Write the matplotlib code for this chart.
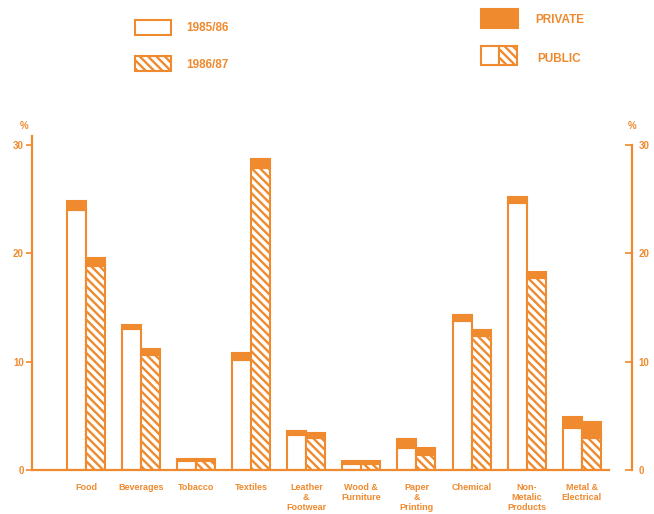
import numpy as np
import matplotlib
matplotlib.use('Agg')
import matplotlib.pyplot as plt
from matplotlib.patches import Rectangle

# ----------------------------------------------------------------------
#  Datos (% por sector)
# ----------------------------------------------------------------------
sectors = ['Food', 'Beverages', 'Tobacco', 'Textiles', 'Leather\n&\nFootwear',
           'Wood &\nFurniture', 'Paper\n&\nPrinting', 'Chemical',
           'Non-\nMetalic\nProducts', 'Metal &\nElectrical']
total_8586 = [24.8, 13.4, 1.0, 10.8, 3.6, 0.8, 2.9, 14.3, 25.2, 4.9]
private_8586 = [0.8, 0.4, 0.2, 0.6, 0.4, 0.2, 0.9, 0.5, 0.5, 1.0]
total_8687 = [19.6, 11.2, 1.0, 28.7, 3.4, 0.8, 2.0, 12.9, 18.3, 4.4]
private_8687 = [0.8, 0.6, 0.2, 0.8, 0.4, 0.2, 0.6, 0.5, 0.6, 1.4]
yticks = [0, 10, 20, 30]

ORANGE = '#EF8A2E'
HATCH = '\\' * 4
plt.rcParams['hatch.linewidth'] = 1.7
plt.rcParams['font.family'] = ['Liberation Sans', 'DejaVu Sans']


def main():
    public_8586 = np.array(total_8586) - np.array(private_8586)
    public_8687 = np.array(total_8687) - np.array(private_8687)
    x = np.arange(len(sectors))
    w = 0.345

    fig = plt.figure(figsize=(6.54, 5.14), dpi=100)
    ax = fig.add_axes([0.049, 0.0856, 0.917, 0.632])

    # 1985/86: público en blanco, privado relleno
    ax.bar(x - w / 2, public_8586, w, color='white', edgecolor=ORANGE,
           linewidth=1.5)
    ax.bar(x - w / 2, private_8586, w, bottom=public_8586, color=ORANGE,
           edgecolor=ORANGE, linewidth=1.5)
    # 1986/87: público rayado, privado relleno
    ax.bar(x + w / 2, public_8687, w, color='white', edgecolor=ORANGE,
           hatch=HATCH, linewidth=1.5)
    ax.bar(x + w / 2, private_8687, w, bottom=public_8687, color=ORANGE,
           edgecolor=ORANGE, linewidth=1.5)

    ax.set_xlim(-0.98, 9.91)
    ax.set_ylim(0, 30)
    ax.set_yticks(yticks)
    ax.set_xticks(x)
    ax.set_xticklabels(sectors, fontsize=6.5, fontweight='bold', color=ORANGE,
                       linespacing=1.15, va='top')
    ax.tick_params(axis='x', length=0, pad=9)
    ax.tick_params(axis='y', colors=ORANGE, labelsize=7, length=4,
                   width=1.2, direction='out', pad=2)
    for lab in ax.get_yticklabels():
        lab.set_fontweight('bold')

    for s in ['top', 'right']:
        ax.spines[s].set_visible(False)
    ax.spines['left'].set_color(ORANGE)
    ax.spines['left'].set_linewidth(1.6)
    ax.spines['left'].set_bounds(0, 30.8)
    ax.spines['bottom'].set_color(ORANGE)
    ax.spines['bottom'].set_linewidth(1.6)
    ax.spines['bottom'].set_bounds(-0.98, 9.5)

    # eje derecho
    ax2 = ax.twinx()
    ax2.set_ylim(0, 30)
    ax2.set_yticks(yticks)
    for s in ['top', 'left', 'bottom']:
        ax2.spines[s].set_visible(False)
    ax2.spines['right'].set_color(ORANGE)
    ax2.spines['right'].set_linewidth(1.6)
    ax2.tick_params(axis='y', colors=ORANGE, labelsize=7, length=5,
                    width=1.2, direction='in', pad=5)
    for lab in ax2.get_yticklabels():
        lab.set_fontweight('bold')

    ax.text(-1.05, 31.3, '%', color=ORANGE, fontsize=7, fontweight='bold',
            ha='right', va='bottom')
    ax2.text(9.91, 31.3, '%', color=ORANGE, fontsize=7, fontweight='bold',
             ha='center', va='bottom')

    # ------------------------------------------------------------------
    #  Leyenda (coordenadas en píxeles de la figura)
    # ------------------------------------------------------------------
    lg = fig.add_axes([0, 0, 1, 1], zorder=-1)
    lg.set_xlim(0, 654)
    lg.set_ylim(514, 0)
    lg.axis('off')
    lg.add_patch(Rectangle((135, 20), 36, 15, facecolor='white',
                           edgecolor=ORANGE, linewidth=1.5))
    lg.add_patch(Rectangle((135, 56), 36, 15, facecolor='white',
                           edgecolor=ORANGE, hatch=HATCH, linewidth=1.5))
    lg.add_patch(Rectangle((481, 9), 37, 19, facecolor=ORANGE,
                           edgecolor=ORANGE, linewidth=1.5))
    lg.add_patch(Rectangle((481, 46), 18, 19, facecolor='white',
                           edgecolor=ORANGE, linewidth=1.5))
    lg.add_patch(Rectangle((499, 46), 18, 19, facecolor='white',
                           edgecolor=ORANGE, hatch=HATCH, linewidth=1.5))
    kw = dict(color=ORANGE, fontsize=8.5, fontweight='bold', va='center')
    lg.text(186, 28, '1985/86', **kw)
    lg.text(186, 65, '1986/87', **kw)
    lg.text(535, 20, 'PRIVATE', **kw)
    lg.text(537, 59, 'PUBLIC', **kw)

    fig.savefig('out.png', dpi=100)


if __name__ == '__main__':
    main()
